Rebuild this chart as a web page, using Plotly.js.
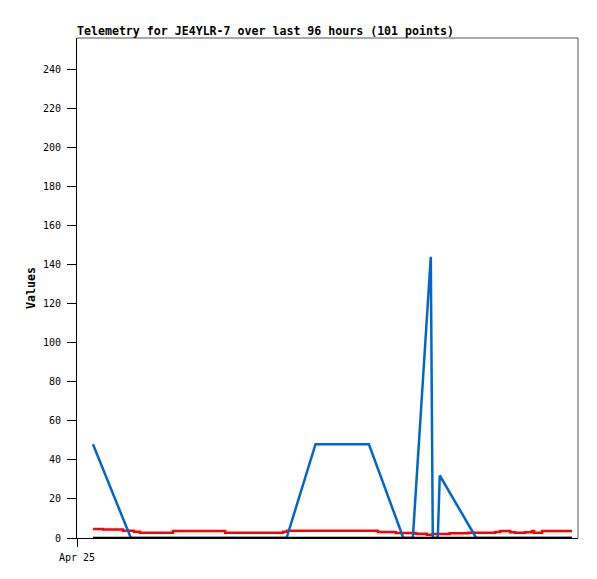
<!DOCTYPE html>
<html>
<head>
<meta charset="utf-8">
<script src="https://cdn.plot.ly/plotly-3.0.1.min.js"></script>
<style>html,body{margin:0;padding:0;background:#fff;}#chart{width:597px;height:579px;}</style>
</head>
<body>
<div id="chart"></div>
<script>
// Hours since Apr 25 00:00
const xTickVals = [0];
const xTickText = ["Apr 25"];

const blueHours = [3.2, 10.8, 42.0, 47.8, 58.5, 65.4, 67.3, 70.9, 71.3, 72.3, 72.7, 80.0, 99.2];
const blueValues = [48, 0, 0, 48, 48, 0, 0, 144, 0, 0, 32, 0, 0];

const redHours = [3.2, 5.2, 9.2, 11.4, 12.6, 19.2, 29.7, 41.3, 42.1, 60.3, 63.9, 67.9, 70.1, 71.3, 74.7, 78.4, 83.8, 84.8, 86.8, 87.8, 89.8, 91.2, 91.6, 93.2, 99.2];
const redValues = [4.6, 4.3, 3.7, 3.2, 2.7, 3.6, 2.7, 3.2, 3.7, 3.1, 2.6, 2.2, 1.7, 2.0, 2.4, 2.7, 3.1, 3.6, 3.0, 2.7, 3.0, 3.6, 2.7, 3.6, 3.6];

const blackHours = [3.2, 99.2];
const blackValues = [0, 0];

const mono = "DejaVu Sans Mono, Liberation Mono, monospace";

const traces = [
  {x: redHours, y: redValues, type: 'scatter', mode: 'lines', line: {color: '#ff0000', width: 2.5, shape: 'hv'}, hoverinfo: 'skip'},
  {x: blueHours, y: blueValues, type: 'scatter', mode: 'lines', line: {color: '#0066cc', width: 2.5}, hoverinfo: 'skip'},
  {x: blackHours, y: blackValues, type: 'scatter', mode: 'lines', line: {color: '#000000', width: 2.5}, hoverinfo: 'skip'}
];

const layout = {
  width: 597, height: 579,
  margin: {l: 77, r: 19, t: 38, b: 41, pad: 0},
  paper_bgcolor: '#ffffff', plot_bgcolor: '#ffffff',
  showlegend: false,
  font: {family: mono, size: 10, color: '#000'},
  title: {
    text: '<b>Telemetry for JE4YLR-7 over last 96 hours (101 points)</b>',
    font: {family: mono, size: 11.6, color: '#000'},
    x: 77/597, xref: 'container', xanchor: 'left',
    y: 1 - 31/579, yref: 'container', yanchor: 'middle'
  },
  xaxis: {
    range: [0, 100.4], showgrid: false, zeroline: false,
    showline: true, linecolor: '#000', linewidth: 1,
    ticks: 'outside', ticklen: 8, tickwidth: 1, tickcolor: '#000',
    tickvals: xTickVals, ticktext: xTickText, ticklabelstandoff: 2,
    tickfont: {family: mono, size: 10, color: '#000'}
  },
  yaxis: {
    range: [0, 256], showgrid: false, zeroline: false,
    showline: true, linecolor: '#000', linewidth: 1,
    ticks: 'outside', ticklen: 9, tickwidth: 1, tickcolor: '#000',
    dtick: 20, tick0: 0, ticklabelstandoff: 4,
    tickfont: {family: mono, size: 10, color: '#000'},
    title: {text: '<b>Values</b>', font: {family: mono, size: 11.6, color: '#000'}, standoff: 4}
  },
  shapes: [
    {type: 'line', xref: 'paper', yref: 'paper', x0: 0, x1: 1, y0: 1, y1: 1, line: {color: '#555555', width: 1}},
    {type: 'line', xref: 'paper', yref: 'paper', x0: 1, x1: 1, y0: 0, y1: 1, line: {color: '#555555', width: 1}}
  ]
};

Plotly.newPlot('chart', traces, layout, {staticPlot: true, displayModeBar: false});
</script>
</body>
</html>
